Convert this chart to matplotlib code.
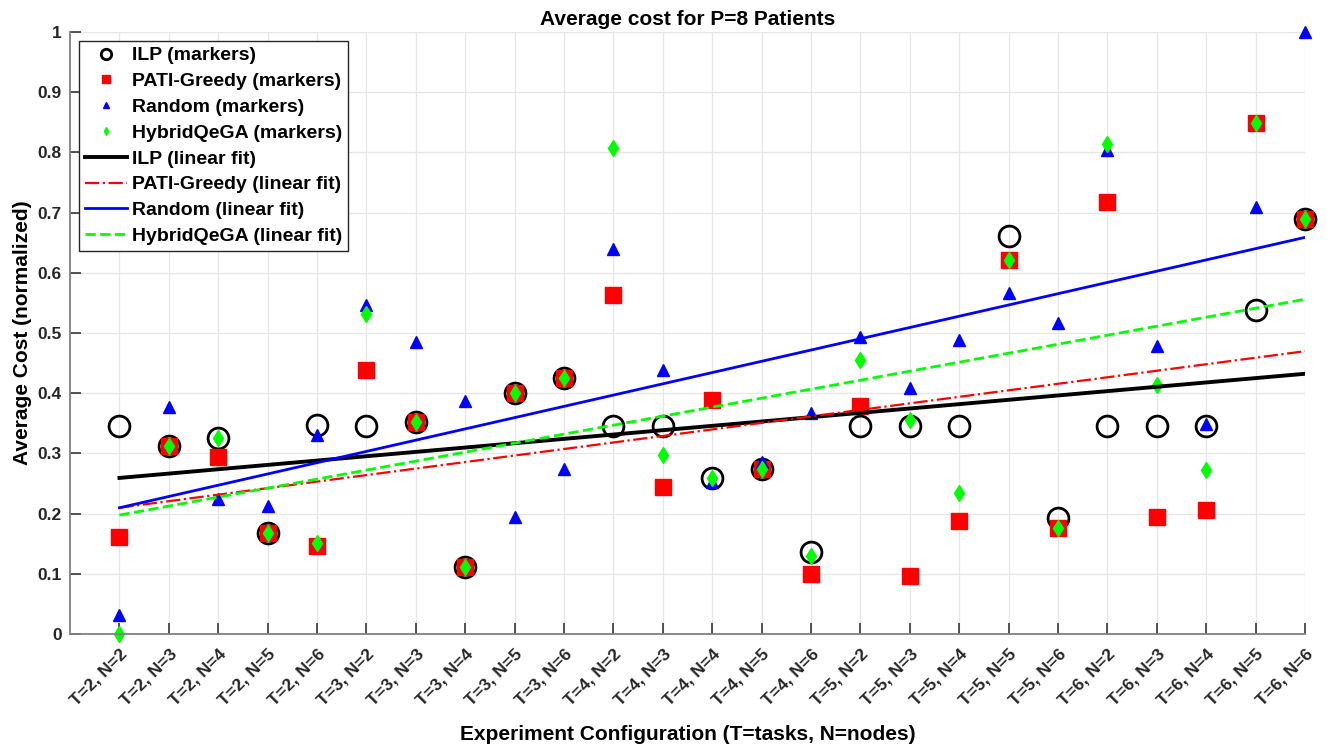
import numpy as np
import matplotlib.pyplot as plt

plt.rcParams['font.family'] = ['Liberation Sans', 'DejaVu Sans']

# configurations (T tasks, N nodes)
configs = [f"T={t}, N={n}" for t in range(2, 7) for n in range(2, 7)]

ilp = [0.346, 0.312, 0.325, 0.167, 0.348, 0.346, 0.352, 0.112, 0.400, 0.425,
       0.346, 0.346, 0.259, 0.274, 0.136, 0.346, 0.345, 0.345, 0.661, 0.192,
       0.345, 0.345, 0.345, 0.538, 0.689]
greedy = [0.161, 0.312, 0.294, 0.167, 0.147, 0.439, 0.352, 0.112, 0.400, 0.425,
          0.563, 0.245, 0.388, 0.274, 0.100, 0.378, 0.097, 0.188, 0.622, 0.176,
          0.718, 0.195, 0.206, 0.848, 0.689]
rand = [0.032, 0.377, 0.224, 0.212, 0.330, 0.546, 0.485, 0.387, 0.194, 0.274,
        0.640, 0.438, 0.252, 0.285, 0.367, 0.493, 0.409, 0.489, 0.566, 0.516,
        0.804, 0.479, 0.349, 0.710, 1.000]
hybrid = [0.000, 0.312, 0.325, 0.167, 0.151, 0.532, 0.352, 0.112, 0.400, 0.425,
          0.807, 0.298, 0.259, 0.274, 0.129, 0.455, 0.355, 0.234, 0.622, 0.176,
          0.814, 0.413, 0.272, 0.848, 0.689]

x = np.arange(1, len(configs) + 1)

fig = plt.figure(figsize=(13.27, 7.49), dpi=100)
ax = fig.add_axes([0.0528, 0.1535, 0.9307, 0.8038])

ax.plot(x, ilp, 'o', mfc='none', mec='k', mew=2.0, ms=15, clip_on=False,
        label='ILP (markers)')
ax.plot(x, greedy, 's', color='r', ms=11, clip_on=False,
        label='PATI-Greedy (markers)')
ax.plot(x, rand, '^', color='b', ms=8, clip_on=False,
        label='Random (markers)')
ax.plot(x, hybrid, 'd', color='#00ff00', ms=8, clip_on=False,
        label='HybridQeGA (markers)')

fits = [(ilp, 'k', '-', 2.8, 'ILP (linear fit)'),
        (greedy, 'r', '-.', 1.6, 'PATI-Greedy (linear fit)'),
        (rand, 'b', '-', 2.0, 'Random (linear fit)'),
        (hybrid, '#00ff00', '--', 2.0, 'HybridQeGA (linear fit)')]
for y, c, ls, lw, lab in fits:
    p = np.polyfit(x, y, 1)
    ax.plot(x, np.polyval(p, x), color=c, ls=ls, lw=lw, label=lab)

ax.set_xlim(0, 25)
ax.set_ylim(0, 1)
ax.set_xticks(x)
ax.set_xticklabels(configs, rotation=45, ha='right', rotation_mode='anchor',
                   fontsize=12.5, fontweight='bold')
ax.set_yticks(np.arange(0, 1.01, 0.1))
ax.set_yticklabels(['0'] + [f"{v:.1f}" for v in np.arange(0.1, 1.0, 0.1)] + ['1'],
                   fontsize=12.5, fontweight='bold')
ax.tick_params(direction='in', length=8, width=1.1, color='#262626',
               labelcolor='#262626', pad=6)
ax.tick_params(axis='x', pad=9)
ax.grid(True, color='#e6e6e6', lw=0.9)
ax.set_axisbelow(True)
for s in ['top', 'right']:
    ax.spines[s].set_visible(False)
for s in ['left', 'bottom']:
    ax.spines[s].set_color('#808080')
    ax.spines[s].set_linewidth(1.3)

ax.set_title('Average cost for P=8 Patients', fontsize=15, fontweight='bold',
             pad=5)
ax.set_xlabel('Experiment Configuration (T=tasks, N=nodes)', fontsize=15,
              fontweight='bold', labelpad=12)
ax.set_ylabel('Average Cost (normalized)', fontsize=15, fontweight='bold',
              labelpad=4)

leg = ax.legend(loc='upper left', bbox_to_anchor=(0.007, 0.985), markerscale=0.5,
                prop={'weight': 'bold', 'size': 14}, handlelength=2.2,
                handletextpad=0.25, borderpad=0.3, labelspacing=0.42,
                borderaxespad=0, fancybox=False, framealpha=1,
                edgecolor='#262626')
leg.get_frame().set_linewidth(1.0)

fig.savefig('out.png', dpi=100)
